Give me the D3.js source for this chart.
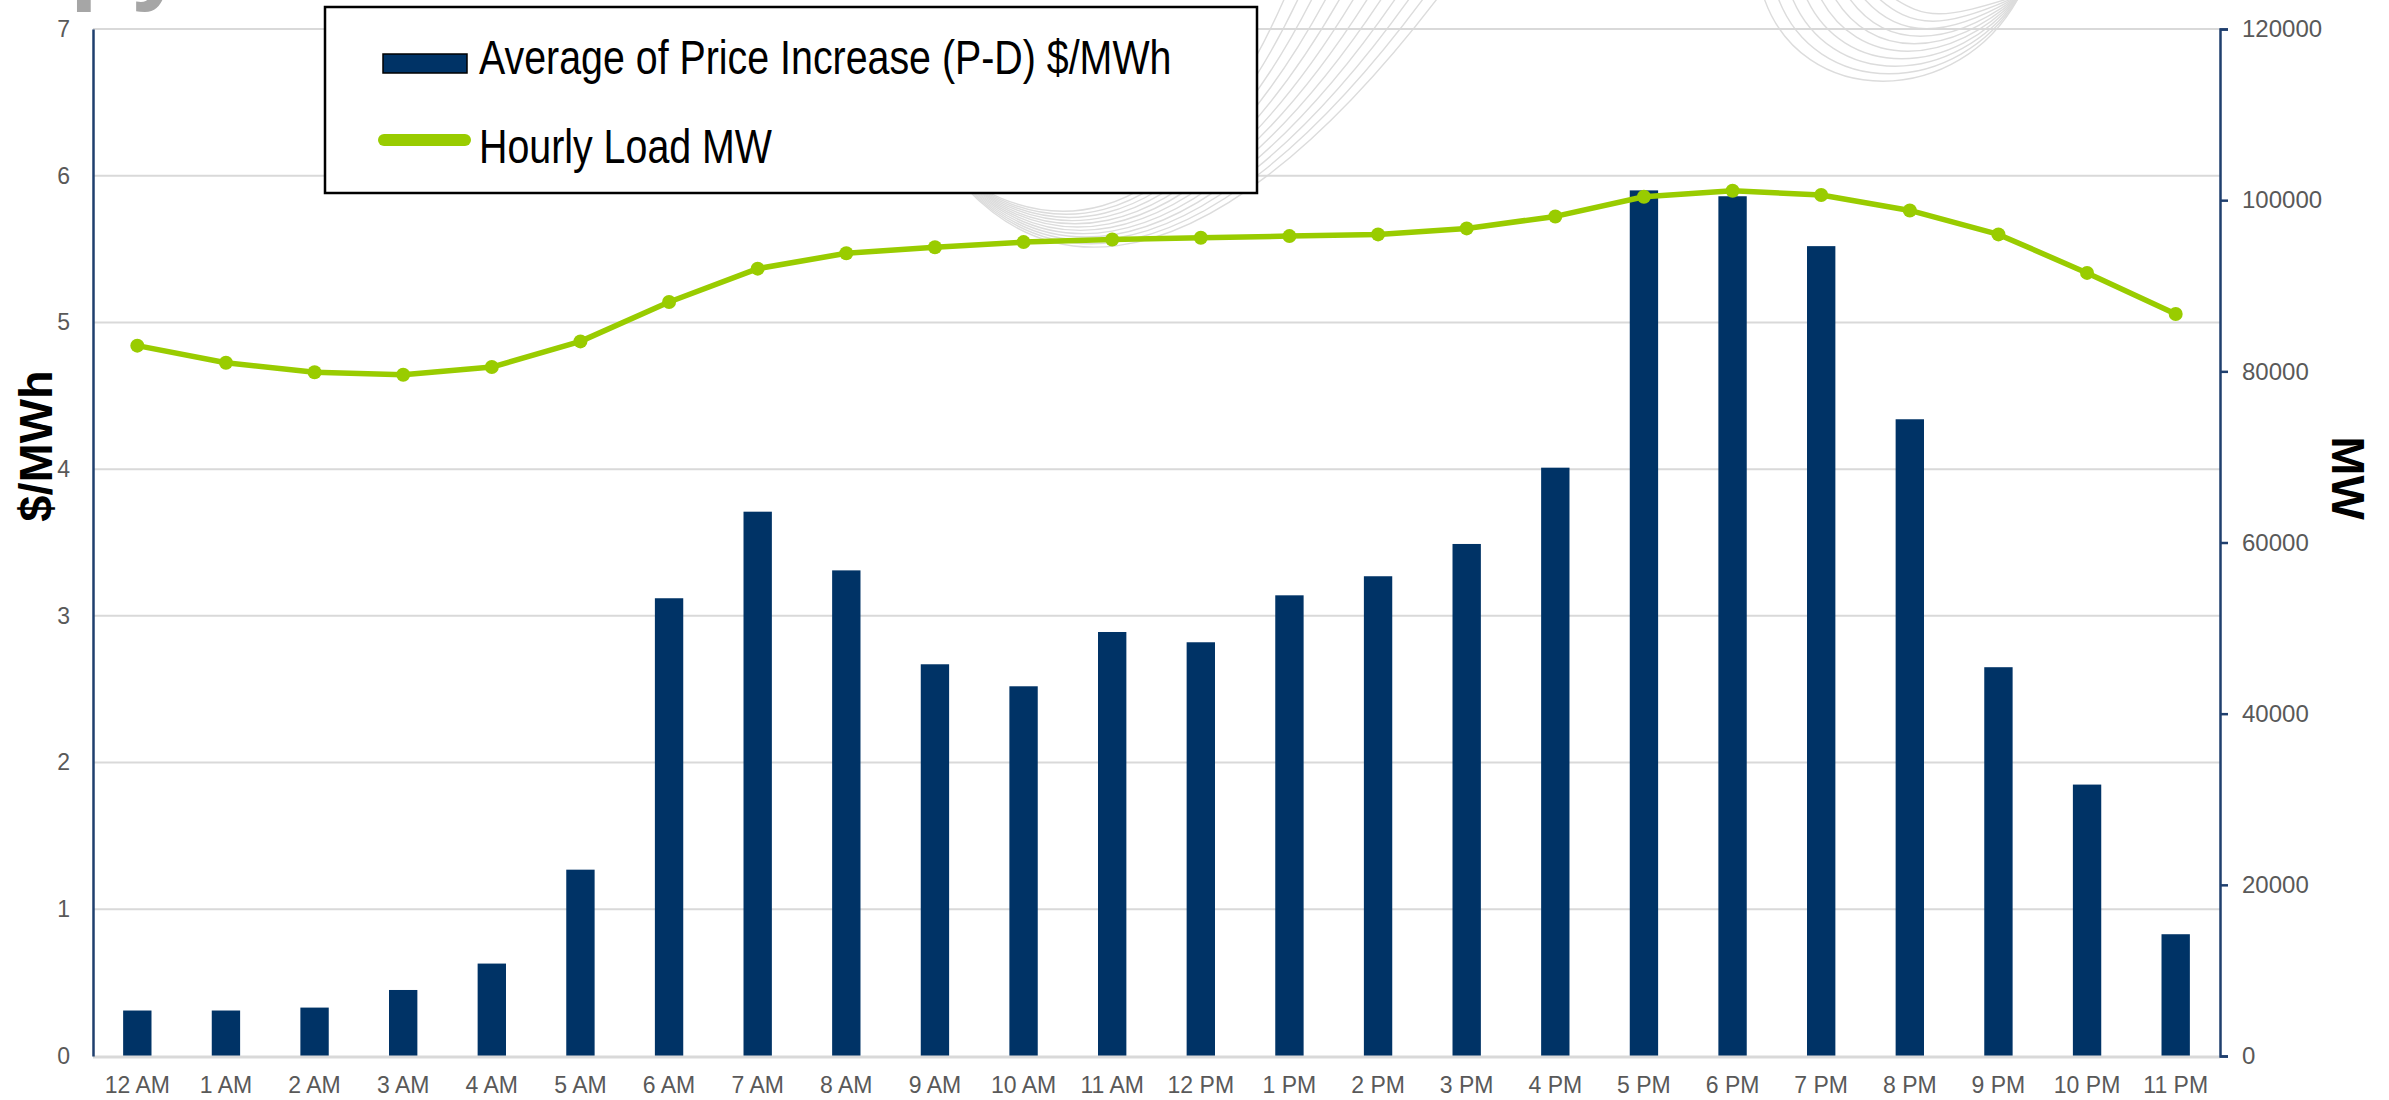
<!DOCTYPE html>
<html>
<head>
<meta charset="utf-8">
<script src="https://cdn.jsdelivr.net/npm/d3@7"></script>
<style>
	html, body { margin: 0; padding: 0; background: #fff; }
	svg { display: block; font-family: "Liberation Sans", Arial, sans-serif; }
</style>
</head>
<body>
<div id="chart"></div>
<script>
var hours = ["12 AM", "1 AM", "2 AM", "3 AM", "4 AM", "5 AM", "6 AM", "7 AM", "8 AM", "9 AM", "10 AM", "11 AM",
	"12 PM", "1 PM", "2 PM", "3 PM", "4 PM", "5 PM", "6 PM", "7 PM", "8 PM", "9 PM", "10 PM", "11 PM"];
var priceIncrease = [0.31, 0.31, 0.33, 0.45, 0.63, 1.27, 3.12, 3.71, 3.31, 2.67, 2.52, 2.89,
	2.82, 3.14, 3.27, 3.49, 4.01, 5.90, 5.86, 5.52, 4.34, 2.65, 1.85, 0.83];
var hourlyLoad = [83000, 81000, 79900, 79600, 80500, 83500, 88100, 92000, 93800, 94500, 95100, 95400,
	95600, 95800, 96000, 96700, 98100, 100400, 101100, 100600, 98800, 96000, 91500, 86700];
var leftTicks = [0, 1, 2, 3, 4, 5, 6, 7];
var rightTicks = [0, 20000, 40000, 60000, 80000, 100000, 120000];
var seriesNames = ["Average of Price Increase (P-D) $/MWh", "Hourly Load MW"];

var W = 2389, H = 1100;
var plotLeft = 93, plotRight = 2220, plotTop = 29, plotBottom = 1056;
var barColor = "#003366", lineColor = "#99cc00", axisColor = "#1f3f6e", tickText = "#595959";

var svg = d3.select("#chart").append("svg")
	.attr("width", W)
	.attr("height", H);

// faint background watermark strokes
var wm = svg.append("g")
	.attr("fill", "none")
	.attr("stroke", "#dcdcdc")
	.attr("stroke-width", 1.4);
for (var i = 0; i < 12; i++) {
	wm.append("path")
		.attr("d", "M900," + (80 + i * 4) + " C" + (1000 + i * 3) + "," + (320 - i * 5) + " " + (1200 - i * 2) + "," + (310 - i * 6) +
			" " + (1440 - i * 14) + ",-5");
}
for (var j = 0; j < 10; j++) {
	wm.append("path")
		.attr("d", "M" + (1763 + j * 14) + ",-5 C" + (1800 + j * 14) + "," + (110 - j * 10) + " " + (1960 - j * 2) + "," + (110 - j * 10) +
			" 2020,-5");
}

// cut-off grey title glyphs at the top-left
svg.append("text")
	.attr("x", 70)
	.attr("y", -9)
	.attr("font-size", 100)
	.attr("font-weight", "bold")
	.attr("fill", "#a6a6a6")
	.text("py");

var x = d3.scaleBand()
	.domain(hours)
	.range([plotLeft, plotRight])
	.paddingInner(0.68)
	.paddingOuter(0.34);

var yLeft = d3.scaleLinear().domain([0, 7]).range([plotBottom, plotTop]);
var yRight = d3.scaleLinear().domain([0, 120000]).range([plotBottom, plotTop]);

// gridlines
svg.append("g")
	.selectAll("line")
	.data(leftTicks.slice(1))
	.enter().append("line")
	.attr("x1", plotLeft)
	.attr("x2", plotRight)
	.attr("y1", function(d) { return yLeft(d); })
	.attr("y2", function(d) { return yLeft(d); })
	.attr("stroke", "#d9d9d9")
	.attr("stroke-width", 2);

// bars
svg.append("g")
	.selectAll("rect")
	.data(priceIncrease)
	.enter().append("rect")
	.attr("x", function(d, i) { return x(hours[i]); })
	.attr("width", x.bandwidth())
	.attr("y", function(d) { return yLeft(d); })
	.attr("height", function(d) { return plotBottom - yLeft(d); })
	.attr("fill", barColor);

// x baseline
svg.append("line")
	.attr("x1", plotLeft)
	.attr("x2", plotRight)
	.attr("y1", plotBottom + 1)
	.attr("y2", plotBottom + 1)
	.attr("stroke", "#d9d9d9")
	.attr("stroke-width", 3);

// load line
var line = d3.line()
	.x(function(d, i) { return x(hours[i]) + x.bandwidth() / 2; })
	.y(function(d) { return yRight(d); });

svg.append("path")
	.datum(hourlyLoad)
	.attr("d", line)
	.attr("fill", "none")
	.attr("stroke", lineColor)
	.attr("stroke-width", 5.5)
	.attr("stroke-linejoin", "round");

svg.append("g")
	.selectAll("circle")
	.data(hourlyLoad)
	.enter().append("circle")
	.attr("cx", function(d, i) { return x(hours[i]) + x.bandwidth() / 2; })
	.attr("cy", function(d) { return yRight(d); })
	.attr("r", 7)
	.attr("fill", lineColor);

// axes
var gL = svg.append("g")
	.attr("transform", "translate(" + plotLeft + ",0)")
	.call(d3.axisLeft(yLeft).tickValues(leftTicks).tickSize(0).tickPadding(23).tickFormat(d3.format("d")));
gL.select(".domain").attr("stroke", axisColor).attr("stroke-width", 2.5);

var gR = svg.append("g")
	.attr("transform", "translate(" + plotRight + ",0)")
	.call(d3.axisRight(yRight).tickValues(rightTicks).tickSize(8).tickPadding(14).tickFormat(d3.format("d")));
gR.select(".domain").attr("stroke", axisColor).attr("stroke-width", 2.5);
gR.selectAll(".tick line").attr("stroke", axisColor).attr("stroke-width", 2.5);

var gX = svg.append("g")
	.attr("transform", "translate(0," + plotBottom + ")")
	.call(d3.axisBottom(x).tickSize(0).tickPadding(21));
gX.select(".domain").remove();

svg.selectAll(".tick text")
	.attr("fill", tickText)
	.style("font-family", "'Liberation Sans', Arial, sans-serif")
	.attr("font-size", 23);
gR.selectAll(".tick text").attr("font-size", 24);

// axis titles
svg.append("text")
	.attr("transform", "translate(52,446) rotate(-90)")
	.attr("text-anchor", "middle")
	.attr("font-size", 47)
	.attr("font-weight", "bold")
	.attr("fill", "#000")
	.text("$/MWh");

svg.append("text")
	.attr("transform", "translate(2332,478) rotate(90)")
	.attr("text-anchor", "middle")
	.attr("font-size", 47)
	.attr("font-weight", "bold")
	.attr("fill", "#000")
	.text("MW");

// legend
var lg = svg.append("g");
lg.append("rect")
	.attr("x", 325)
	.attr("y", 7)
	.attr("width", 932)
	.attr("height", 186)
	.attr("fill", "#fff")
	.attr("stroke", "#000")
	.attr("stroke-width", 2.5);

lg.append("rect")
	.attr("x", 383)
	.attr("y", 54)
	.attr("width", 84)
	.attr("height", 19)
	.attr("fill", barColor)
	.attr("stroke", "#000")
	.attr("stroke-width", 1.5);

lg.append("line")
	.attr("x1", 384)
	.attr("x2", 465)
	.attr("y1", 140)
	.attr("y2", 140)
	.attr("stroke", lineColor)
	.attr("stroke-width", 12)
	.attr("stroke-linecap", "round");

lg.selectAll("text.legend")
	.data(seriesNames)
	.enter().append("text")
	.attr("class", "legend")
	.attr("transform", function(d, i) { return "translate(479," + (74 + i * 89) + ") scale(0.82,1)"; })
	.attr("font-size", 48)
	.attr("fill", "#000")
	.text(function(d) { return d; });
</script>
</body>
</html>
